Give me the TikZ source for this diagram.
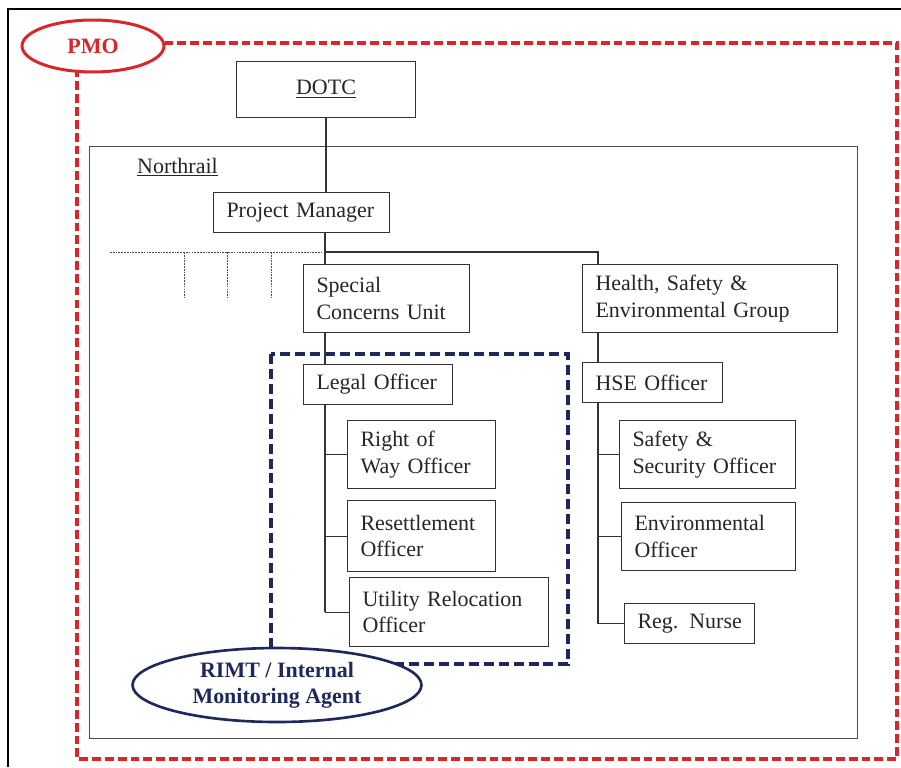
\documentclass[tikz,border=0pt]{standalone}
\usepackage{fontspec}
\setmainfont{Liberation Serif}
\usetikzlibrary{shapes.geometric}
\definecolor{pmored}{RGB}{218,37,42}
\definecolor{rimtblue}{RGB}{30,40,92}
\begin{document}
\begin{tikzpicture}[x=0.02cm, y=-0.02cm,
    every node/.style={font=\fontsize{12.5}{15}\selectfont, text=black!85},
    unit/.style 2 args={draw=black!80, line width=0.6pt, fill=white, anchor=north west, align=left,
        inner xsep=0.26cm, inner ysep=0pt, text width=#1cm, minimum height=#2cm},
    link/.style={draw=black!80, line width=0.6pt},
    dots/.style={black!70, line width=0.5pt, dash pattern=on 1pt off 0.6pt}]
    \useasboundingbox (0,0) rectangle (901,767);
    \draw[line width=1.2pt] (8,767) -- (8,9) -- (901,9);
    \draw[pmored, line width=2pt, dash pattern=on 5pt off 2.3pt] (77,43) rectangle (897,759);
    \draw[black!70, line width=0.5pt] (89,146) rectangle (857,738);
    \draw[rimtblue, line width=1.8pt, dash pattern=on 5.7pt off 2.8pt] (271,354) rectangle (568,664);
    \node[anchor=base west] (northrail) at (131,173) {\underline{Northrail}};
    \node[draw=black!80, line width=0.6pt, anchor=north west, minimum width=3.58cm, minimum height=1.12cm] (dotc) at (236,61) {\underline{DOTC}};
    \node[unit={3.00}{0.8}] (pm) at (213,192) {Project Manager};
    \node[unit={2.80}{1.36}] (scu) at (303,264) {Special\\Concerns Unit};
    \node[unit={4.58}{1.36}] (hseg) at (582,264) {Health, Safety \&\\Environmental Group};
    \node[unit={2.46}{0.8}] (legal) at (303,364) {Legal Officer};
    \node[unit={2.28}{0.8}] (hse) at (582,362) {HSE Officer};
    \node[unit={2.44}{1.36}] (row) at (347,420) {Right of\\Way Officer};
    \node[unit={2.44}{1.42}] (resettle) at (347,500) {Resettlement\\Officer};
    \node[unit={3.46}{1.38}] (util) at (349,577) {Utility Relocation\\Officer};
    \node[unit={3.00}{1.36}] (safety) at (619,420) {Safety \&\\Security Officer};
    \node[unit={2.96}{1.36}] (envoff) at (621,502) {Environmental\\Officer};
    \node[unit={2.08}{0.8}] (nurse) at (624,603) {\mbox{Reg. Nurse}};
    \coordinate (hub) at (325,252);
    \coordinate (hsetop) at (598,252);
    \coordinate (dotend) at (110,252);
    \draw[link] (dotc.south) -- (dotc.south |- pm.north);
    \draw[link] (hub |- pm.south) -- (hub |- scu.north);
    \draw[link] (hub) -- (hsetop) -- (hsetop |- hseg.north);
    \draw[link] (hub |- scu.south) -- (hub |- legal.north);
    \draw[link] (hsetop |- hseg.south) -- (hsetop |- hse.north);
    \draw[link] (hub |- legal.south) -- (hub |- util.west);
    \foreach \n in {row,resettle,util} \draw[link] (hub |- \n.west) -- (\n.west);
    \draw[link] (hsetop |- hse.south) -- (hsetop |- nurse.west);
    \foreach \n in {safety,envoff,nurse} \draw[link] (hsetop |- \n.west) -- (\n.west);
    \draw[dots] (dotend) -- ([xshift=-0.06cm]hub);
    \foreach \x in {184,227,271} \draw[dots] (\x,252) -- (\x,297);
    \node[ellipse, draw=pmored, line width=1.7pt, fill=white, minimum width=2.84cm, minimum height=1.04cm,
        text=pmored, font=\fontsize{12.5}{15}\selectfont\bfseries] (pmo) at (93,46) {PMO};
    \node[ellipse, draw=rimtblue, line width=1.5pt, fill=white, inner sep=0pt, minimum width=5.78cm, minimum height=1.48cm,
        align=center, text=rimtblue, font=\fontsize{12.5}{15}\selectfont\bfseries] (rimt) at (277,685) {RIMT / Internal\\Monitoring Agent};
\end{tikzpicture}
\end{document}
